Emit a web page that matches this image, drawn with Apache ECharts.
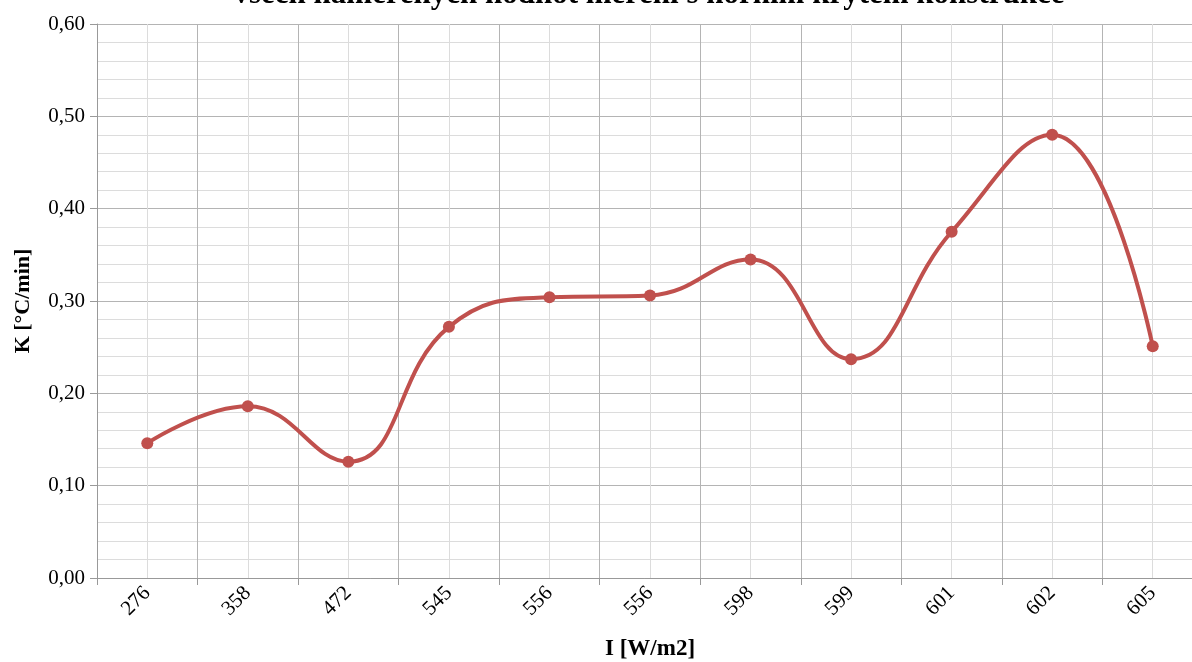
<!DOCTYPE html>
<html>
<head>
<meta charset="utf-8">
<style>
  html, body { margin: 0; padding: 0; background: #fff; }
  #chart { width: 1192px; height: 662px; }
</style>
<script src="https://cdn.jsdelivr.net/npm/echarts@6/dist/echarts.min.js"></script>
</head>
<body>
<div id="chart"></div>
<script>
const titleText = "všech naměřených hodnot měření s horním krytem konstrukce";
const categories = ["276", "358", "472", "545", "556", "556", "598", "599", "601", "602", "605"];
const kValues = [0.146, 0.186, 0.126, 0.272, 0.304, 0.306, 0.345, 0.237, 0.375, 0.480, 0.251];

const serif = "Liberation Serif";

const chart = echarts.init(document.getElementById("chart"));

chart.setOption({
    animation: false,
    title: {
        text: titleText,
        left: 644,
        textAlign: "center",
        top: -26,
        textStyle: { fontFamily: serif, fontSize: 31, fontWeight: "bold", color: "#000" }
    },
    grid: { left: 97, top: 24, right: -11, bottom: 84, containLabel: false, outerBoundsMode: "none" },
    xAxis: {
        type: "category",
        data: categories,
        boundaryGap: true,
        name: "I [W/m2]",
        nameLocation: "middle",
        nameGap: 60,
        nameTextStyle: { fontFamily: serif, fontSize: 23, fontWeight: "bold", color: "#000" },
        axisLine: { lineStyle: { color: "#999", width: 1 } },
        axisTick: { show: true, length: 7, lineStyle: { color: "#999" } },
        axisLabel: { rotate: 45, fontFamily: serif, fontSize: 21, color: "#000", margin: 12 },
        splitLine: { show: true, lineStyle: { color: "#b4b4b4", width: 1 } }
    },
    yAxis: {
        type: "value",
        min: 0,
        max: 0.6,
        interval: 0.1,
        name: "K [°C/min]",
        nameLocation: "middle",
        nameGap: 63,
        nameRotate: 90,
        nameTextStyle: { fontFamily: serif, fontSize: 22, fontWeight: "bold", color: "#000" },
        axisLine: { show: true, lineStyle: { color: "#999", width: 1 } },
        axisTick: { show: true, length: 7, lineStyle: { color: "#999" } },
        axisLabel: {
            fontFamily: serif, fontSize: 21, color: "#000", margin: 12,
            formatter: v => v.toFixed(2).replace(".", ",")
        },
        splitLine: { show: true, lineStyle: { color: "#b4b4b4", width: 1 } },
        minorTick: { show: false, splitNumber: 5 },
        minorSplitLine: { show: true, lineStyle: { color: "#dcdcdc", width: 1 } }
    },
    series: [
        {
            type: "line",
            data: [],
            silent: true,
            z: 1,
            markLine: {
                silent: true,
                symbol: "none",
                label: { show: false },
                animation: false,
                lineStyle: { color: "#dcdcdc", width: 1, type: "solid" },
                data: categories.map((c, i) => ({ xAxis: i }))
            }
        },
        {
            type: "line",
            data: kValues,
            smooth: 0.45,
            symbol: "circle",
            symbolSize: 12,
            z: 5,
            lineStyle: { color: "#C0504D", width: 4 },
            itemStyle: { color: "#C0504D" }
        }
    ]
});
</script>
</body>
</html>
